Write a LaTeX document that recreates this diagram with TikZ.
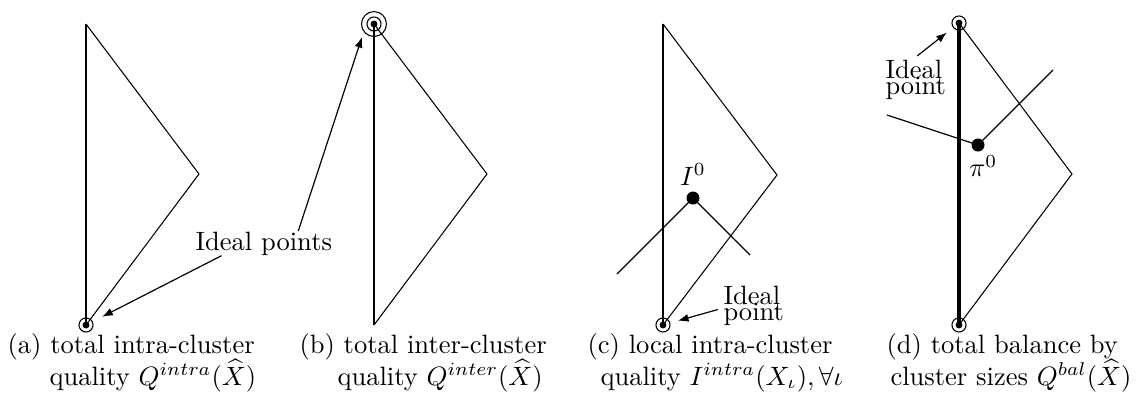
\documentclass[tikz,border=0pt]{standalone}
\usepackage{tikz}
\usetikzlibrary{arrows.meta,positioning}
\newcommand\tightlines{\fontsize{10}{6}\selectfont\lineskiplimit=-10pt\relax}
\tikzset{
  axis/.style={line width=0.8pt},
  boldaxis/.style={line width=1.2pt},
  front/.style={line width=0.4pt, line join=miter},
  ray/.style={line width=0.45pt},
  pointer/.style={-{Latex[length=4pt,width=3pt]}, line width=0.45pt},
  ring/.style={circle, draw, line width=0.4pt, inner sep=0pt, minimum size=5.3pt},
  bigring/.style={ring, minimum size=9.4pt},
  core/.style={circle, fill, inner sep=0pt, minimum size=2.6pt},
  solution/.style={circle, fill, inner sep=0pt, minimum size=4.9pt},
  note/.style={align=left, inner sep=0pt, font=\tightlines},
  sollabel/.style={inner sep=1pt},
  caption/.style={anchor=base west, inner sep=0pt}
}
\begin{document}
\begin{tikzpicture}[x=0.377pt, y=-0.377pt]
\useasboundingbox (0,0) rectangle (1137,393);

% (a) intra-cluster
\coordinate (atop) at (86,24);
\coordinate (aright) at (199,174);
\coordinate (abot) at (86,325);
\draw[axis] (atop) -- (abot);
\draw[front] (atop) -- (aright) -- (abot);
\node[ring] (ringa) at (abot) {};
\node[core] (corea) at (abot) {};

% (b) inter-cluster
\coordinate (btop) at (374,24);
\coordinate (bright) at (487,174);
\coordinate (bbot) at (374,325);
\draw[axis] (btop) -- (bbot);
\draw[front] (btop) -- (bright) -- (bbot);
\node[ring] (ringb) at (btop) {};
\node[bigring] (outerb) at (btop) {};
\node[core] (coreb) at (btop) {};

% shared label for (a) and (b)
\node[note, anchor=base west] (ideala) at (195,250) {Ideal points};
\draw[pointer, shorten >=4pt] ([xshift=10pt]ideala.south west) -- (ringa);
\draw[pointer] ([xshift=13pt]ideala.north) -- ([shift={(-12,13)}]ringb.center);

% (c) local intra-cluster
\coordinate (ctop) at (663,24);
\coordinate (cright) at (777,175);
\coordinate (cbot) at (663,325);
\draw[axis] (ctop) -- (cbot);
\draw[front] (ctop) -- (cright) -- (cbot);
\coordinate (cleft) at (617,274);
\coordinate (cdown) at (750,255);
\node[solution] (dotc) at (693,198) {};
\draw[ray] (cleft) -- (dotc.center) -- (cdown);
\node[sollabel, above=1pt of dotc] (labc) {$I^0$};
\node[ring] (ringc) at (cbot) {};
\node[core] (corec) at (cbot) {};
\node[note, anchor=base west] (notec) at (723,320) {Ideal\\point};
\draw[pointer, shorten <=2pt, shorten >=3pt] ([yshift=-1pt]notec.west) -- (ringc);

% (d) balance
\coordinate (dtop) at (959,23);
\coordinate (dright) at (1072,174);
\coordinate (dbot) at (959,325);
\draw[boldaxis] (dtop) -- (dbot);
\draw[front] (dtop) -- (dright) -- (dbot);
\coordinate (dleft) at (887,115);
\coordinate (dup) at (1053,70);
\node[solution] (dotd) at (978,145) {};
\draw[ray] (dleft) -- (dotd.center) -- (dup);
\node[sollabel, below=0pt of dotd, xshift=2pt] (labd) {$\pi^0$};
\node[ring] (ringd) at (dtop) {};
\node[core] (cored) at (dtop) {};
\node[ring] (ringe) at (dbot) {};
\node[core] (coree) at (dbot) {};
\node[note, anchor=base west] (noted) at (885,94) {Ideal\\point};
\draw[pointer, shorten <=2pt, shorten >=3pt] ([xshift=-1pt]noted.north) -- (ringd);

% captions, number hanging left of the text
\node[caption] (capa) at (7,353) {(a) total intra-cluster};
\node[caption] (capa2) at (49,385) {quality $Q^{intra}(\widehat{X})$};
\node[caption] (capb) at (299,353) {(b) total inter-cluster};
\node[caption] (capb2) at (337,385) {quality $Q^{inter}(\widehat{X})$};
\node[caption] (capc) at (587,353) {(c) local intra-cluster};
\node[caption] (capc2) at (600,385) {quality $I^{intra}(X_\iota),\forall\iota$};
\node[caption] (capd) at (886,353) {(d) total balance by};
\node[caption] (capd2) at (890,385) {cluster sizes $Q^{bal}(\widehat{X})$};
\end{tikzpicture}
\end{document}
